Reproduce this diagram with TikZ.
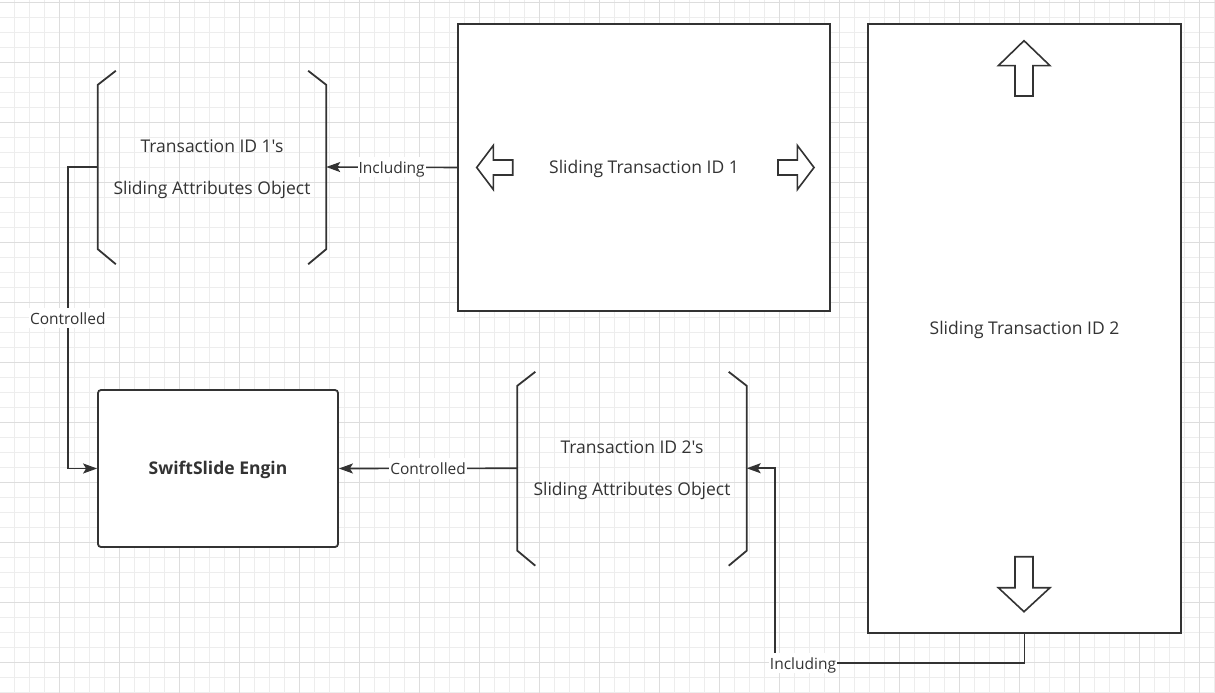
\documentclass[tikz,border=0pt]{standalone}
\usepackage{fontspec}
\setmainfont{Open Sans}[Ligatures=TeXOff]
\usetikzlibrary{arrows.meta,calc}
\definecolor{ink}{HTML}{333333}
\definecolor{gminor}{HTML}{EDEDED}
\definecolor{gmajor}{HTML}{DDDDDD}
\tikzset{
  gridminor/.style={draw=gminor, line width=0.8pt},
  gridmajor/.style={draw=gmajor, line width=0.9pt},
  boxline/.style={draw=ink, line width=1.8pt},
  whitebox/.style={boxline, fill=white, rectangle, inner sep=0pt},
  txt/.style={text=ink, inner sep=0pt, text height=16.7pt, text depth=4.2pt,
    font=\fontsize{17.5}{20}\selectfont},
  boldtxt/.style={txt, font=\fontsize{17.5}{20}\selectfont\bfseries},
  bracketnode/.style={rectangle, inner sep=0pt},
  bracketline/.style={draw=ink, line width=1.8pt},
  blockarrow/.style={draw=ink, line width=1.6pt, fill=white, line join=miter},
  conn/.style={draw=ink, line width=1.6pt, -{Stealth[length=14pt,width=10pt,inset=3pt]}},
  lbl/.style={fill=white, text=ink, inner xsep=1pt, inner ysep=0pt,
    text height=16.6pt, text depth=3.7pt, font=\fontsize{15.5}{17}\selectfont}
}
\begin{document}
\begin{tikzpicture}[x=1pt,y=-1pt]
\useasboundingbox (0,0) rectangle (1215,693);
\fill[white] (0,0) rectangle (1215,693);
% background grid
\foreach \i in {0,...,81} \draw[gridminor] ({-0.7+15*\i},0) -- ({-0.7+15*\i},693);
\foreach \j in {0,...,46} \draw[gridminor] (0,{2.7+15*\j}) -- (1215,{2.7+15*\j});
\foreach \i in {0,...,20} \draw[gridmajor] ({-0.7+60*\i},0) -- ({-0.7+60*\i},693);
\foreach \j in {0,...,11} \draw[gridmajor] (0,{2.7+60*\j}) -- (1215,{2.7+60*\j});

% sliding transaction boxes
\node[whitebox, minimum width=372pt, minimum height=287pt] (box1) at (644,167.5) {};
\node[txt] (box1t) at (box1.center) {Sliding Transaction ID 1};
\node[whitebox, minimum width=313pt, minimum height=609pt] (box2) at (1024.5,328.5) {};
\node[txt] (box2t) at (box2.center) {Sliding Transaction ID 2};

% hollow direction arrows
\draw[blockarrow] (476.7,167.5) -- (493.3,145.5) -- (493.3,160) -- (512.7,160)
  -- (512.7,175) -- (493.3,175) -- (493.3,189.5) -- cycle;
\draw[blockarrow] (814,167.5) -- (797.4,145.5) -- (797.4,160) -- (778,160)
  -- (778,175) -- (797.4,175) -- (797.4,189.5) -- cycle;
\draw[blockarrow] (1024,40.7) -- (998.3,65.7) -- (1015,65.7) -- (1015,96)
  -- (1033,96) -- (1033,65.7) -- (1050,65.7) -- cycle;
\draw[blockarrow] (1024,611.7) -- (998.3,587.7) -- (1015,587.7) -- (1015,556.7)
  -- (1033,556.7) -- (1033,587.7) -- (1050,587.7) -- cycle;

% engine
\node[whitebox, rounded corners=3pt, minimum width=240pt, minimum height=157pt] (eng) at (218,468.5) {};
\node[boldtxt] (engt) at (eng.center) {SwiftSlide Engin};

% attribute objects in brackets
\node[bracketnode, minimum width=228pt, minimum height=164pt] (b1) at (212,167) {};
\node[txt] (b1a) at ($(b1.center)+(0,-20.8)$) {Transaction ID 1's};
\node[txt] (b1b) at ($(b1.center)+(0,20.8)$) {Sliding Attributes Object};
\node[bracketnode, minimum width=229pt, minimum height=164.5pt] (b2) at (632,468.25) {};
\node[txt] (b2a) at ($(b2.center)+(0,-20.8)$) {Transaction ID 2's};
\node[txt] (b2b) at ($(b2.center)+(0,20.8)$) {Sliding Attributes Object};
\foreach \b in {b1,b2} {
  \draw[bracketline] ($(\b.north west)+(18,-14)$) -- (\b.north west) -- (\b.south west) -- ++(18,15);
  \draw[bracketline] ($(\b.north east)+(-18,-14)$) -- (\b.north east) -- (\b.south east) -- ++(-18,15);
}

% connectors
\draw[conn] (box1.west) -- node[lbl]{Including} (b1.east);
\draw[conn] (b1.west) -- ++(-30,0) |- node[lbl, pos=0.25]{Controlled} (eng.west);
\draw[conn] (b2.west) -- node[lbl]{Controlled} (eng.east);
\coordinate (turn) at (775,663);
\draw[conn] (box2.south) |- (turn) |- (b2.east);
\node[lbl] (inc2) at (803,663) {Including};
\end{tikzpicture}
\end{document}
